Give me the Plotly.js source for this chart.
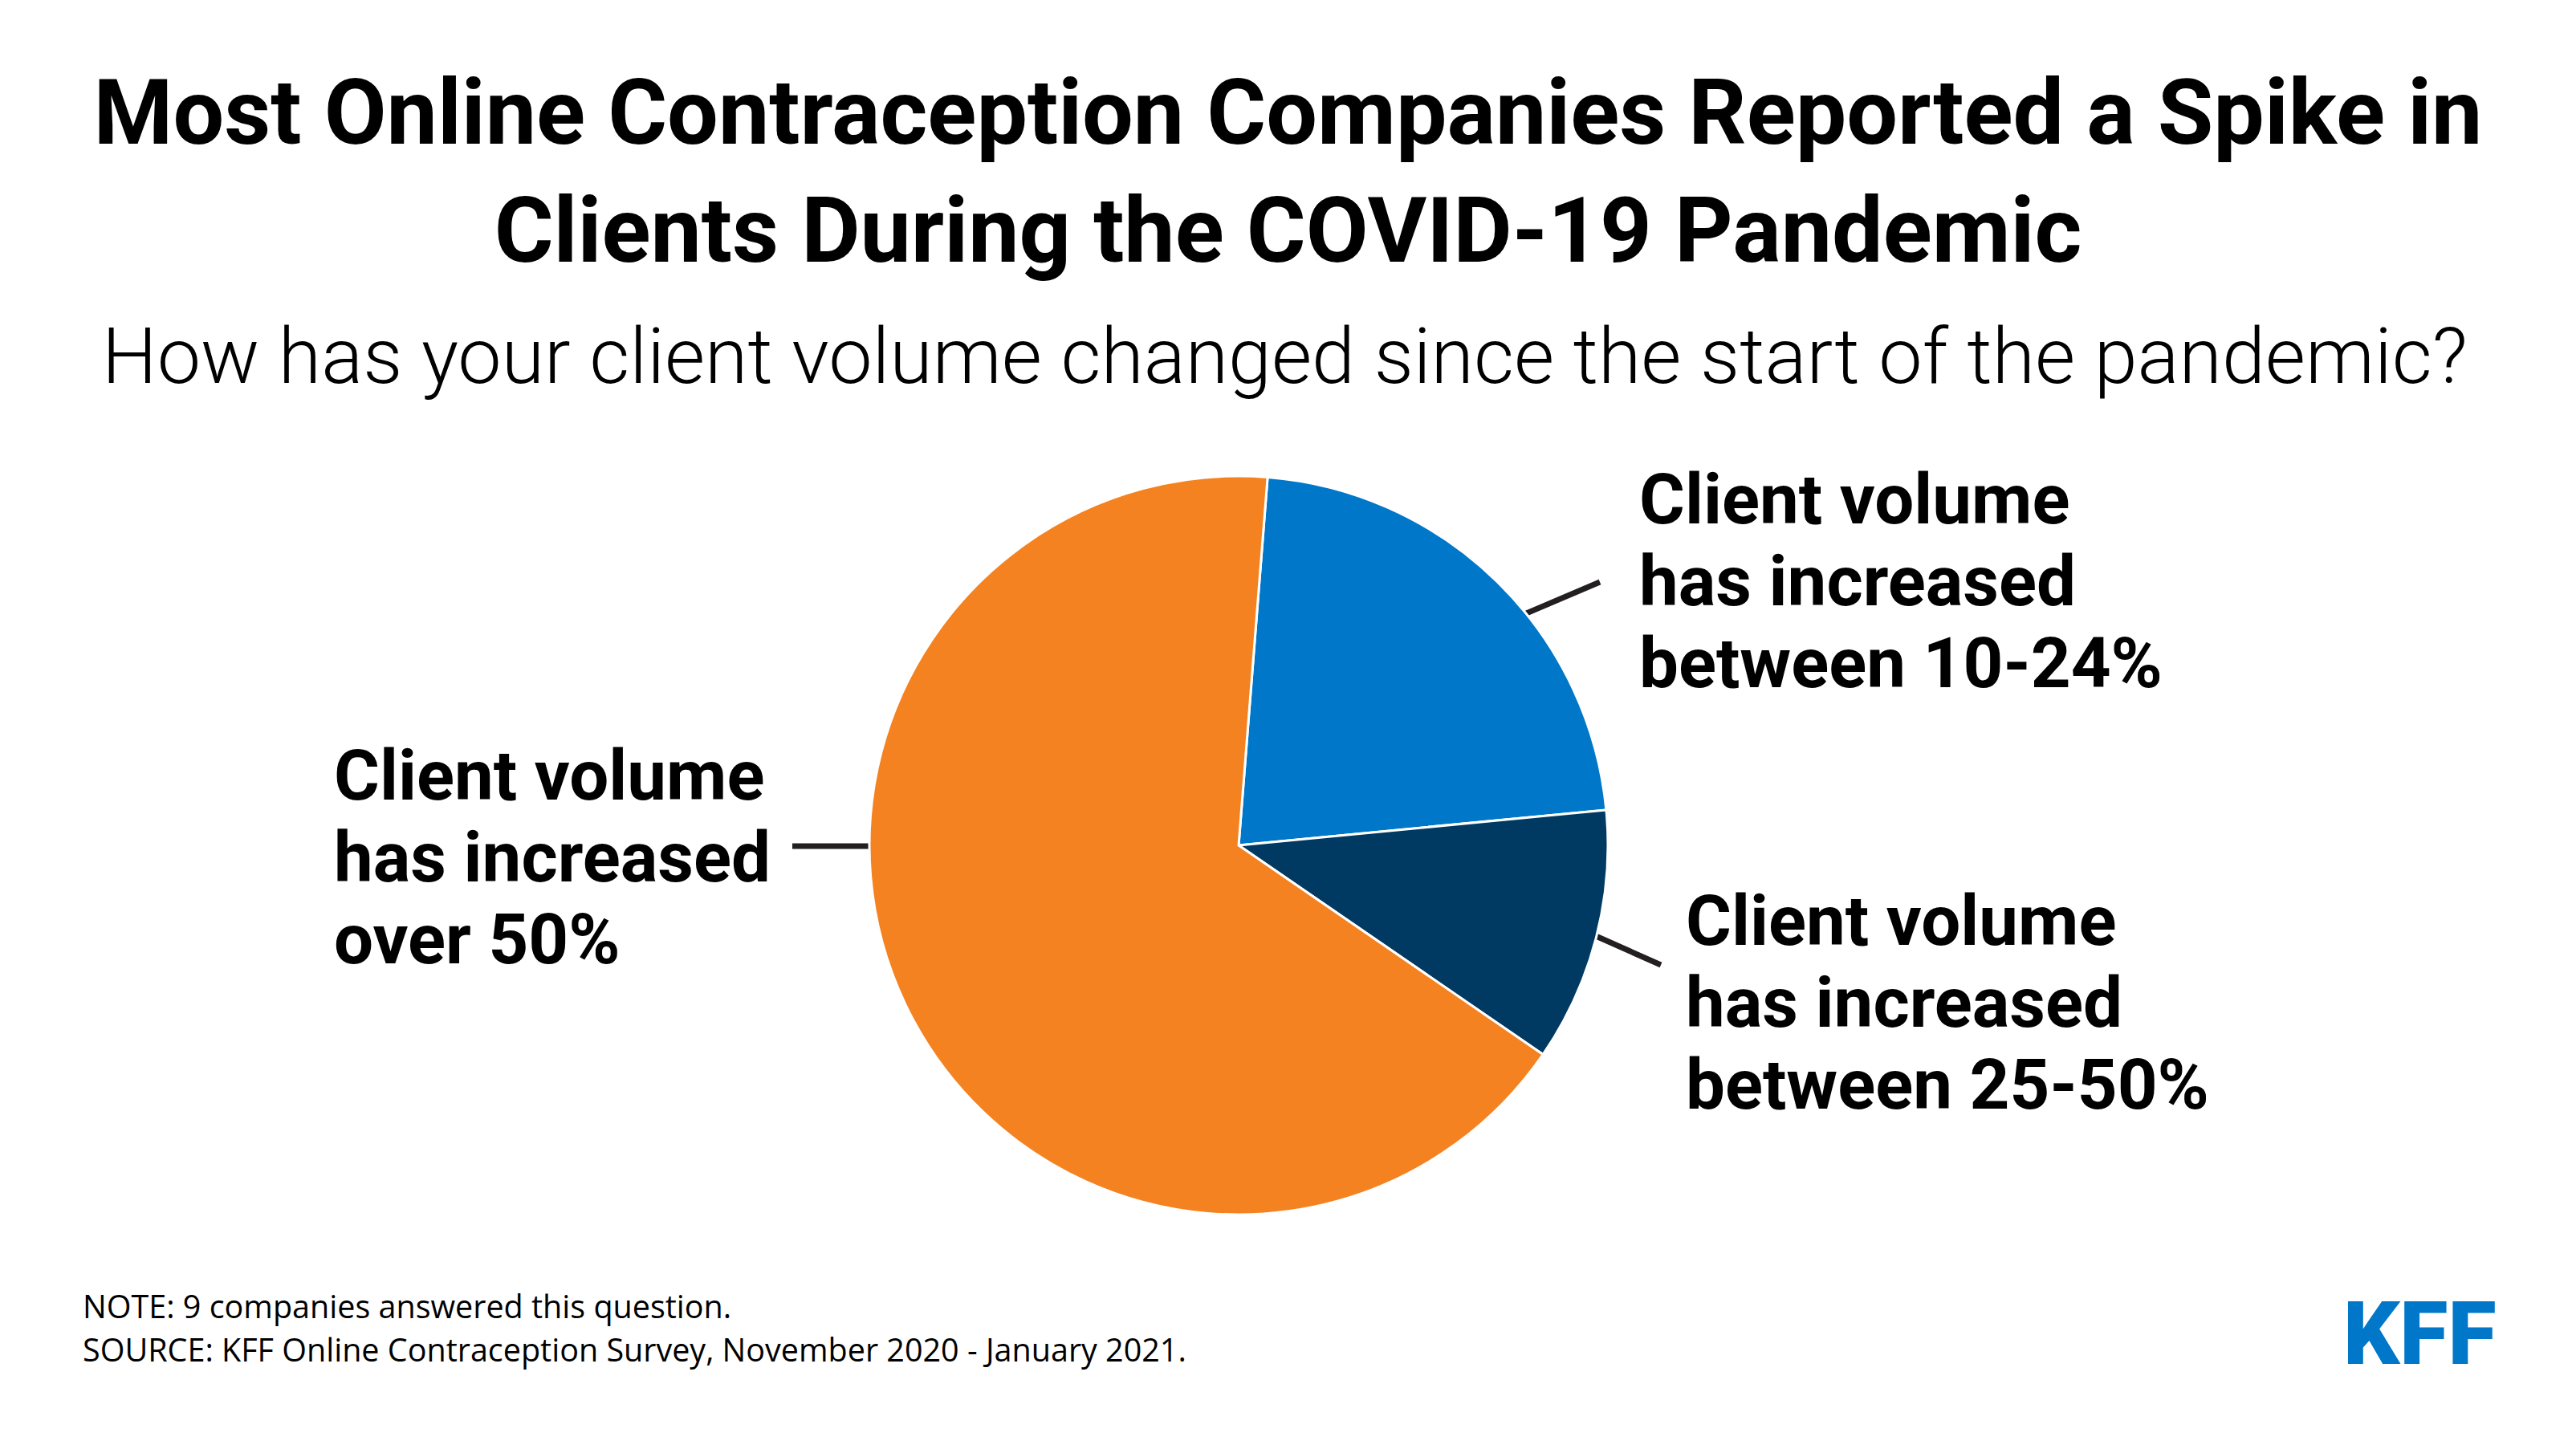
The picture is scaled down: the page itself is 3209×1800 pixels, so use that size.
<!DOCTYPE html>
<html>
<head>
<meta charset="utf-8">
<script src="https://cdn.plot.ly/plotly-3.0.1.min.js"></script>
<style>html,body{margin:0;padding:0;background:#fff;}#chart{width:3209px;height:1800px;}</style>
</head>
<body>
<div id="chart"></div>
<script>
// ---- data ----
const categories = [
  'Client volume has increased between 10-24%',
  'Client volume has increased between 25-50%',
  'Client volume has increased over 50%'
];
const labelLines = [
  ['Client volume', 'has increased', 'between 10-24%'],
  ['Client volume', 'has increased', 'between 25-50%'],
  ['Client volume', 'has increased', 'over 50%']
];
const companies = [2, 1, 6];
const sliceColors = ['#0077c8', '#003a63', '#f58220'];

const titleText = 'Most Online Contraception Companies Reported a Spike in<br>Clients During the COVID-19 Pandemic';
const subtitleText = 'How has your client volume changed since the start of the pandemic?';
const noteLines = [
  'NOTE: 9 companies answered this question.',
  'SOURCE: KFF Online Contraception Survey, November 2020 - January 2021.'
];
const logoText = 'KFF';

// ---- layout helpers (pixels -> paper) ----
const W = 3209, H = 1800;
const px = x => x / W;
const py = y => 1 - y / H;
const ROBOTO_ASC = 0.928, OPEN_ASC = 1.069;

const pieCx = 1543, pieCy = 1053, pieR = 460;

const labelFont = {family: 'Roboto', size: 87, weight: 700, color: '#000'};
const labelAnchors = [
  {x: 2042, y: 652},
  {x: 2100, y: 1177},
  {x: 416, y: 996}
];
const lineStep = 102;

const leaders = [
  {x0: 1885, y0: 771, x1: 1993, y1: 725},
  {x0: 1970, y0: 1158, x1: 2069, y1: 1202},
  {x0: 987, y0: 1054, x1: 1100, y1: 1054}
];

const annotations = [];
function textAt(text, left, baseline, font, asc, anchor, glyphSize) {
  const g = glyphSize || font.size;
  annotations.push({
    text: text, showarrow: false, xref: 'paper', yref: 'paper',
    x: px(left), xanchor: anchor || 'left',
    y: py(baseline - asc * g), yanchor: 'top',
    font: font, borderpad: 0, borderwidth: 0, align: anchor === 'center' ? 'center' : 'left'
  });
}

// subtitle
textAt(subtitleText, 1600, 477, {family: 'Roboto', size: 97, weight: 300, color: '#000'}, ROBOTO_ASC, 'center');

// slice labels
labelLines.forEach((lines, i) => {
  lines.forEach((t, j) => {
    textAt(t, labelAnchors[i].x, labelAnchors[i].y + j * lineStep, labelFont, ROBOTO_ASC);
  });
});

// notes: one block, glyphs 39.5px, line pitch 1.3em of 41.5px
const noteGlyph = 39.5;
const noteText = noteLines.map(t => '<span style="font-size:' + noteGlyph + 'px">' + t + '</span>').join('<br>');
textAt(noteText, 103, 1642, {family: 'Open Sans', size: 41.5, color: '#000'}, OPEN_ASC, 'left', noteGlyph);

// logo
textAt(logoText, 2919, 1699, {family: 'Roboto', size: 110, weight: 900, color: '#0077c8'}, ROBOTO_ASC);

const shapes = leaders.map(l => ({
  type: 'line', xref: 'paper', yref: 'paper', layer: 'below',
  x0: px(l.x0), y0: py(l.y0), x1: px(l.x1), y1: py(l.y1),
  line: {color: '#231f20', width: 7}
}));

const trace = {
  type: 'pie',
  labels: categories,
  values: companies,
  sort: false,
  direction: 'clockwise',
  rotation: 4.5,
  textinfo: 'none',
  hoverinfo: 'none',
  marker: {colors: sliceColors, line: {color: '#ffffff', width: 3}},
  domain: {x: [px(pieCx - pieR), px(pieCx + pieR)], y: [py(pieCy + pieR), py(pieCy - pieR)]},
  showlegend: false
};

const layout = {
  width: W, height: H, autosize: false,
  margin: {l: 0, r: 0, t: 0, b: 0, pad: 0},
  paper_bgcolor: '#ffffff', plot_bgcolor: '#ffffff',
  showlegend: false,
  title: {
    text: titleText,
    font: {family: 'Roboto', size: 113, weight: 700, color: '#000'},
    x: 0.5, xref: 'container', xanchor: 'center',
    y: 1 - 179 / H, yref: 'container', yanchor: 'top'
  },
  annotations: annotations,
  shapes: shapes
};

Plotly.newPlot('chart', [trace], layout, {displayModeBar: false, staticPlot: true});
</script>
</body>
</html>
